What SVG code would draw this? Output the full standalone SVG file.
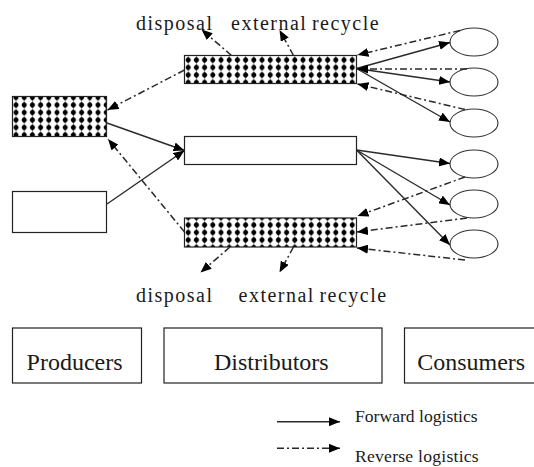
<svg xmlns="http://www.w3.org/2000/svg" width="534" height="467" viewBox="0 0 534 467">
  <style>
    .box { fill: #fff; stroke: #222; stroke-width: 1.2; }
    .dots { fill: url(#diamonds); stroke: #222; stroke-width: 1.2; }
    .cons { fill: #fff; stroke: #333; stroke-width: 1.1; }
    .fwd { fill: none; stroke: #2a2a2a; stroke-width: 1.4; marker-end: url(#head); }
    .rev { fill: none; stroke: #2a2a2a; stroke-width: 1.5; stroke-dasharray: 7 3 2 3; marker-end: url(#head); }
    .txt { font-family: 'Liberation Serif', serif; fill: #1a1a1a; }
    .lbl { font-size: 20px; letter-spacing: 1.5px; word-spacing: -2px; }
    .stage { font-size: 24px; }
    .key { font-size: 17.6px; }
  </style>
  <defs>
    <pattern id="diamonds" patternUnits="userSpaceOnUse" x="184.1" y="56.25" width="8.2" height="7.5">
      <rect width="8.2" height="7.5" fill="#fff"/>
      <path d="M4.1 0.2 L6.9 3.75 L4.1 7.3 L1.3 3.75 Z" fill="#000"/>
      <circle cx="4.1" cy="3.75" r="2.3" fill="#000"/>
    </pattern>
    <marker id="head" viewBox="0 0 11 9" refX="11" refY="4.5" markerWidth="11" markerHeight="9" markerUnits="userSpaceOnUse" orient="auto">
      <path d="M0 0 L11 4.5 L0 9 Z" fill="#000"/>
    </marker>
  </defs>

  <!-- producers -->
  <g id="producer-reverse"><rect class="dots" x="12.5" y="96.5" width="94" height="40"/></g>
  <g id="producer-forward"><rect class="box" x="12.5" y="191.5" width="94" height="41"/></g>

  <!-- distributors -->
  <g id="dist-top"><rect class="dots" x="184.5" y="55.5" width="172" height="28"/></g>
  <g id="dist-middle"><rect class="box" x="184.5" y="136.5" width="172" height="28"/></g>
  <g id="dist-bottom"><rect class="dots" x="184.5" y="218" width="172" height="29"/></g>

  <!-- consumers -->
  <g id="consumer-1"><ellipse class="cons" cx="474" cy="42" rx="24" ry="14"/></g>
  <g id="consumer-2"><ellipse class="cons" cx="474" cy="82" rx="24" ry="14"/></g>
  <g id="consumer-3"><ellipse class="cons" cx="474" cy="123" rx="24" ry="14"/></g>
  <g id="consumer-4"><ellipse class="cons" cx="474" cy="164" rx="24" ry="14"/></g>
  <g id="consumer-5"><ellipse class="cons" cx="474" cy="204" rx="24" ry="14"/></g>
  <g id="consumer-6"><ellipse class="cons" cx="474" cy="244" rx="24" ry="14"/></g>

  <!-- outlet labels -->
  <g id="outlets-top">
    <text class="txt lbl" x="136" y="29.5">disposal</text>
    <text class="txt lbl" x="231" y="29.5">external recycle</text>
  </g>
  <g id="outlets-bottom">
    <text class="txt lbl" x="136" y="302">disposal</text>
    <text class="txt lbl" x="238.5" y="302">external recycle</text>
  </g>

  <g id="connectors">
    <!-- forward flows -->
    <path class="fwd" d="M107 123 L184.5 150.5"/>
    <path class="fwd" d="M107 204 L184.5 150.5"/>
    <path class="fwd" d="M356.5 68.5 L450 42.5"/>
    <path class="fwd" d="M356.5 68.5 L450 82"/>
    <path class="fwd" d="M356.5 68.5 L450 122"/>
    <path class="fwd" d="M356.5 150 L450 163.5"/>
    <path class="fwd" d="M356.5 150 L450 205"/>
    <path class="fwd" d="M356.5 150 L450 245"/>
    <!-- reverse flows -->
    <path class="rev" d="M184.5 70 L107.5 110"/>
    <path class="rev" d="M184.5 232 L108 139"/>
    <path class="rev" d="M231.5 55.5 L201.5 29.5"/>
    <path class="rev" d="M293.5 55.5 L279.5 30"/>
    <path class="rev" d="M230 247 L200.5 272.5"/>
    <path class="rev" d="M293.5 247 L279.5 272.5"/>
    <path class="rev" d="M460 30.5 L357.5 55"/>
    <path class="rev" d="M467 69 L357 69"/>
    <path class="rev" d="M465 109.5 L357.5 84"/>
    <path class="rev" d="M465 177 L357.5 216"/>
    <path class="rev" d="M467 218 L357 232"/>
    <path class="rev" d="M465 260 L357 248"/>
  </g>

  <!-- stage captions -->
  <g id="stage-producers">
    <rect class="box" x="12.5" y="328" width="129" height="55"/>
    <text class="txt stage" x="26.6" y="370">Producers</text>
  </g>
  <g id="stage-distributors">
    <rect class="box" x="164" y="328" width="218" height="55"/>
    <text class="txt stage" x="214" y="370">Distributors</text>
  </g>
  <g id="stage-consumers">
    <rect class="box" x="404.5" y="328" width="140" height="55"/>
    <text class="txt stage" x="417.2" y="370">Consumers</text>
  </g>

  <!-- key -->
  <g id="legend">
    <path class="fwd" d="M277 421.7 L340 421.7"/>
    <text class="txt key" x="355" y="421.7">Forward logistics</text>
    <path class="rev" d="M277 448.3 L340 448.3"/>
    <text class="txt key" x="355" y="461.7" letter-spacing="0.25">Reverse logistics</text>
  </g>
</svg>
